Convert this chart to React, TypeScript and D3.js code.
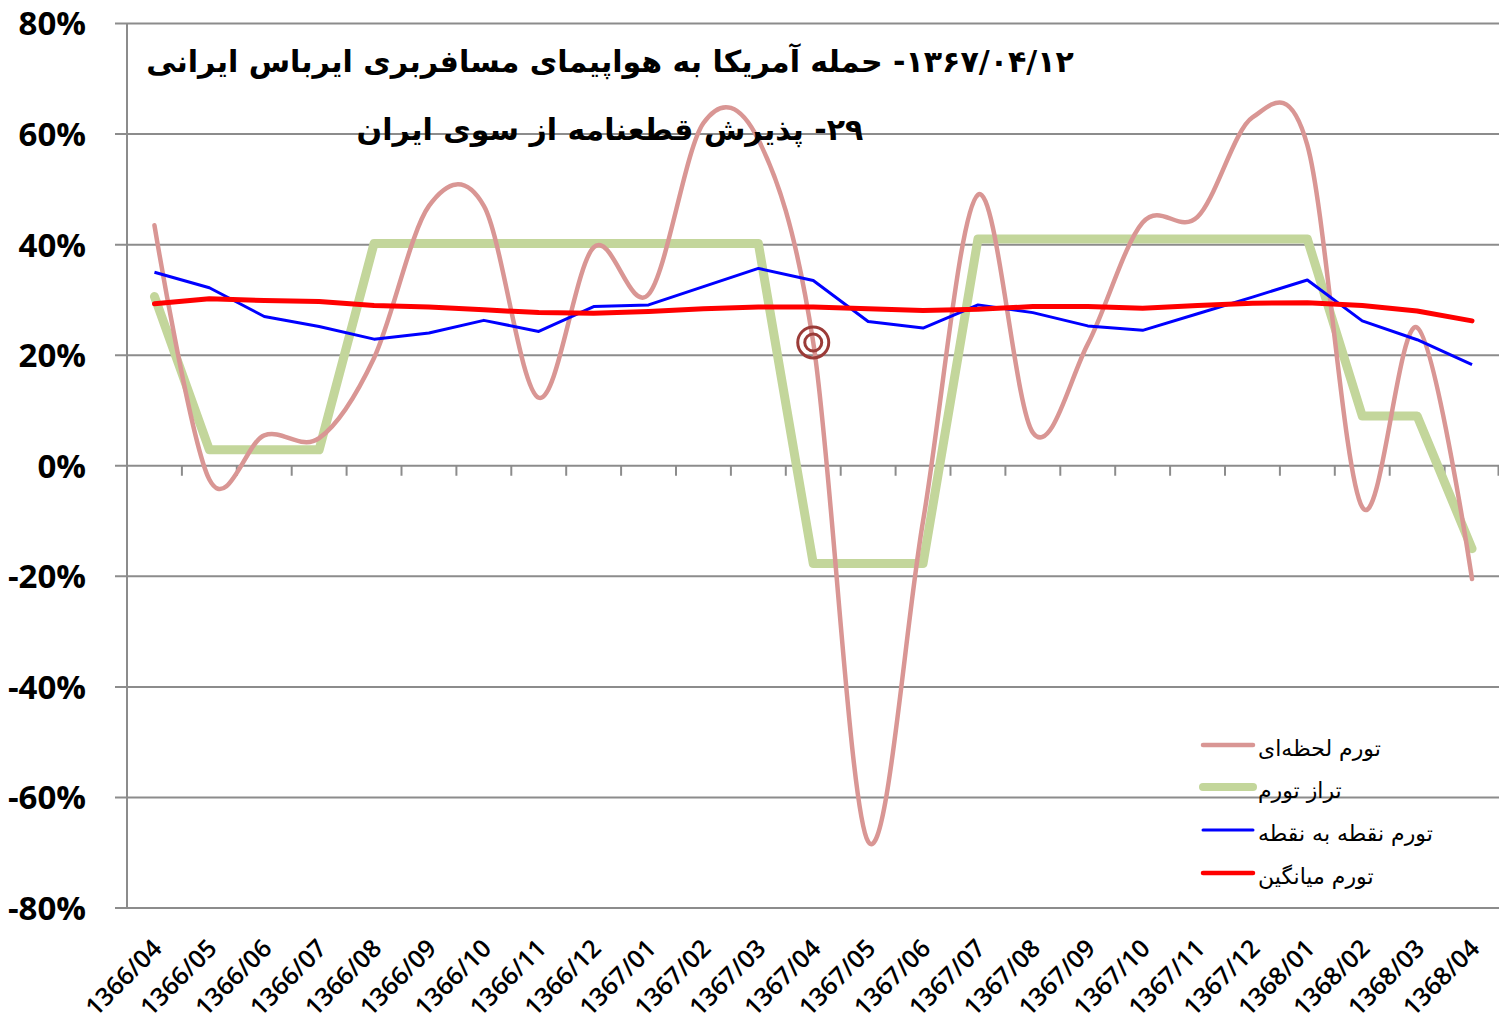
import React from 'react';
import * as d3 from 'd3';

const categories = [
  '1366/04', '1366/05', '1366/06', '1366/07', '1366/08', '1366/09', '1366/10', '1366/11', '1366/12',
  '1367/01', '1367/02', '1367/03', '1367/04', '1367/05', '1367/06', '1367/07', '1367/08', '1367/09',
  '1367/10', '1367/11', '1367/12', '1368/01', '1368/02', '1368/03', '1368/04',
];

// تورم لحظه‌ای (smoothed)
const lahzeiValues = [43.5, -2.5, 5.5, 5.0, 19.5, 47, 47, 12.3, 39.5, 31, 62, 59, 22.3, -68, -10, 49, 6, 22, 44, 45, 63, 58, -7.5, 25, -20.5];
// تراز تورم
const tarazValues = [30.6, 2.9, 2.9, 2.9, 40.2, 40.2, 40.2, 40.2, 40.2, 40.2, 40.2, 40.2, -17.7, -17.7, -17.7, 41, 41, 41, 41, 41, 41, 41, 9, 9, -15];
// تورم نقطه به نقطه
const noghteValues = [35.0, 32.2, 27.0, 25.2, 22.9, 24.0, 26.3, 24.3, 28.8, 29.1, 32.4, 35.7, 33.5, 26.1, 24.9, 29.1, 27.7, 25.3, 24.5, 27.5, 30.5, 33.6, 26.2, 22.8, 18.3];
// تورم میانگین
const mianginValues = [29.3, 30.2, 29.9, 29.7, 29.0, 28.7, 28.2, 27.7, 27.6, 27.9, 28.4, 28.7, 28.7, 28.4, 28.1, 28.3, 28.8, 28.8, 28.5, 29.0, 29.4, 29.5, 29.0, 28.0, 26.2];

const yTicks = [-80, -60, -40, -20, 0, 20, 40, 60, 80];
const legendLabels = ['تورم لحظه‌ای', 'تراز تورم', 'تورم نقطه به نقطه', 'تورم میانگین'];
const titleLine1 = '۱۳۶۷/۰۴/۱۲- حمله آمریکا به هواپیمای مسافربری ایرباس ایرانی';
const titleLine2 = '۲۹- پذیرش قطعنامه از سوی ایران';
const markerCategory = '1367/04';

const W = 1499;
const H = 1024;
const plotLeft = 127;
const plotRight = 1499.5;
const plotTop = 23.5;
const plotBottom = 908;

const COLORS = {
  lahzei: '#d99694',
  taraz: '#c3d69b',
  noghte: '#0000ff',
  miangin: '#ff0000',
  grid: '#8c8c8c',
  marker: '#9b3b38',
};

export default function App() {
  const x = d3.scaleBand<string>().domain(categories).range([plotLeft, plotRight]).padding(0);
  const bw = x.bandwidth();
  const cx = (c: string) => (x(c) as number) + bw / 2;
  const y = d3.scaleLinear().domain([-80, 80]).range([plotBottom, plotTop]);

  const straight = d3.line<number>().x((_, i) => cx(categories[i])).y((d) => y(d));
  const smooth = d3
    .line<number>()
    .x((_, i) => cx(categories[i]))
    .y((d) => y(d))
    .curve(d3.curveCardinal.tension(0));

  const mIdx = categories.indexOf(markerCategory);
  const mx = cx(markerCategory);
  const my = y(lahzeiValues[mIdx]);

  const legendItems = [
    { label: legendLabels[0], color: COLORS.lahzei, w: 4.5 },
    { label: legendLabels[1], color: COLORS.taraz, w: 8 },
    { label: legendLabels[2], color: COLORS.noghte, w: 3 },
    { label: legendLabels[3], color: COLORS.miangin, w: 4.5 },
  ];
  const legendY = [745, 787, 830, 873];

  return (
    <svg
      width={W}
      height={H}
      style={{ position: 'absolute', left: 0, top: 0, background: '#fff' }}
      xmlns="http://www.w3.org/2000/svg"
    >
      <rect x={0} y={0} width={W} height={H} fill="#fff" />
      {/* gridlines */}
      {yTicks.map((t) => (
        <g key={t}>
          <line x1={plotLeft - 12} x2={W} y1={y(t)} y2={y(t)} stroke={COLORS.grid} strokeWidth={2} />
          <text
            x={86}
            y={y(t)}
            dy="0.36em"
            textAnchor="end"
            fontFamily="'Open Sans', sans-serif"
            fontWeight="bold"
            fontSize={33}
            fill="#000"
          >
            {`${t}%`}
          </text>
        </g>
      ))}
      {/* y axis */}
      <line x1={plotLeft} x2={plotLeft} y1={plotTop} y2={plotBottom} stroke={COLORS.grid} strokeWidth={2} />
      {/* category ticks on the 0% line */}
      {categories.map((c, i) =>
        i === 0 ? null : (
          <line key={c} x1={x(c) as number} x2={x(c) as number} y1={y(0)} y2={y(0) + 10} stroke={COLORS.grid} strokeWidth={2} />
        )
      )}
      <line x1={plotRight - 1} x2={plotRight - 1} y1={y(0)} y2={y(0) + 10} stroke={COLORS.grid} strokeWidth={2} />
      {/* x labels */}
      {categories.map((c) => (
        <text
          key={c}
          transform={`translate(${cx(c) + 9},${plotBottom + 42}) rotate(-45)`}
          textAnchor="end"
          fontFamily="'Open Sans', sans-serif"
          fontSize={25}
          fontWeight={600}
          fill="#000"
        >
          {c}
        </text>
      ))}

      {/* series */}
      <path d={straight(tarazValues) || ''} fill="none" stroke={COLORS.taraz} strokeWidth={9} strokeLinejoin="round" strokeLinecap="round" />
      <path d={smooth(lahzeiValues) || ''} fill="none" stroke={COLORS.lahzei} strokeWidth={4.5} strokeLinecap="round" />
      <path d={straight(noghteValues) || ''} fill="none" stroke={COLORS.noghte} strokeWidth={3} strokeLinejoin="round" />
      <path d={straight(mianginValues) || ''} fill="none" stroke={COLORS.miangin} strokeWidth={5} strokeLinejoin="round" strokeLinecap="round" />

      {/* marker */}
      <circle cx={mx} cy={my} r={15.5} fill="none" stroke={COLORS.marker} strokeWidth={3} />
      <circle cx={mx} cy={my} r={8.5} fill="none" stroke={COLORS.marker} strokeWidth={3} />

      {/* title */}
      <text x={610} y={72} textAnchor="middle" direction="rtl" fontFamily="'DejaVu Sans', sans-serif" fontWeight="bold" fontSize={30} fill="#000">
        {titleLine1}
      </text>
      <text x={610} y={140} textAnchor="middle" direction="rtl" fontFamily="'DejaVu Sans', sans-serif" fontWeight="bold" fontSize={30} fill="#000">
        {titleLine2}
      </text>

      {/* legend */}
      {legendItems.map((it, i) => (
        <g key={it.label}>
          <line x1={1203} x2={1253} y1={legendY[i]} y2={legendY[i]} stroke={it.color} strokeWidth={it.w} strokeLinecap="round" />
          <text x={1258} y={legendY[i] + 11} fontFamily="'DejaVu Sans', sans-serif" fontSize={22} fill="#000">
            {it.label}
          </text>
        </g>
      ))}
    </svg>
  );
}
